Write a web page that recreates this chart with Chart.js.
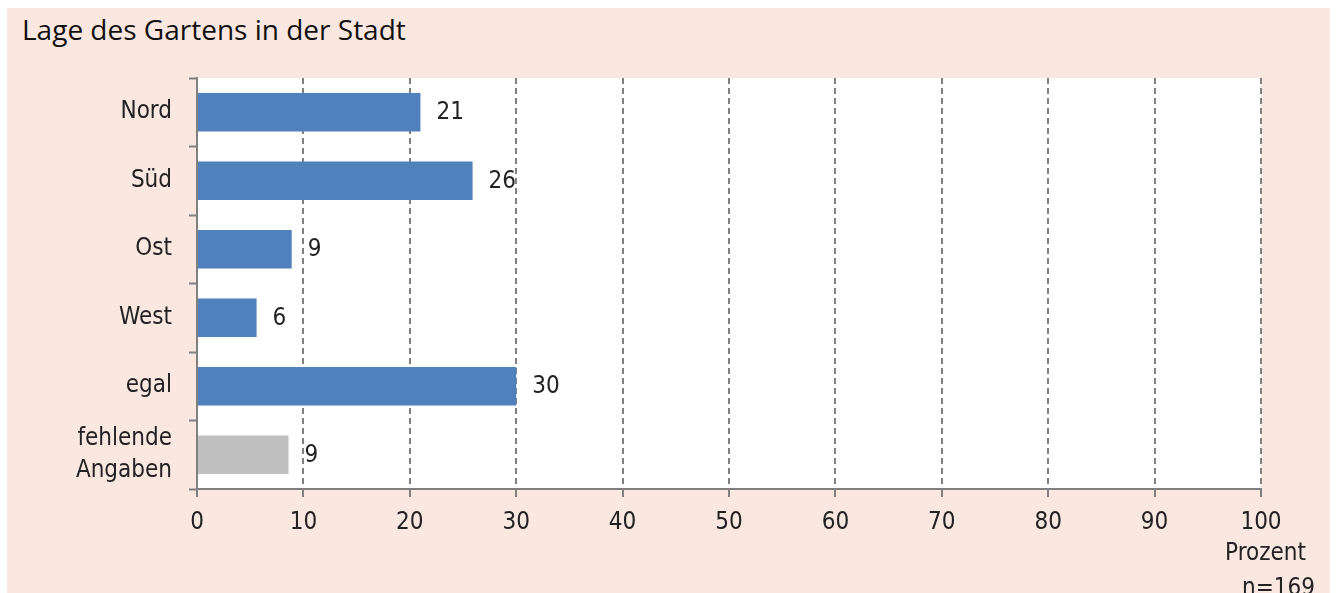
<!DOCTYPE html>
<html lang="de">
<head>
<meta charset="utf-8">
<title>Lage des Gartens in der Stadt</title>
<script src="https://cdn.jsdelivr.net/npm/chart.js@4.4.1/dist/chart.umd.min.js"></script>
<style>
    html, body { margin: 0; padding: 0; background: #ffffff; }
    body { width: 1336px; height: 593px; position: relative; overflow: hidden; }
    #panel { position: absolute; left: 7px; top: 8px; width: 1323px; height: 600px; background: #f9e7e0; }
    #title { position: absolute; left: 22px; top: 10px; font-family: "Open Sans", "Noto Sans", sans-serif; font-size: 28px; font-weight: 500; color: #111; }
    #chart { position: absolute; left: 0; top: 0; }
</style>
</head>
<body>
<div id="panel"></div>
<div id="title">Lage des Gartens in der Stadt</div>
<canvas id="chart" width="1336" height="593"></canvas>
<script>
// Daten
const categories = ["Nord", "Süd", "Ost", "West", "egal", ["fehlende", "Angaben"]];
const values = [21.0, 25.9, 8.9, 5.6, 30.0, 8.6];
const valueLabels = ["21", "26", "9", "6", "30", "9"];
const barColors = ["#4f81bd", "#4f81bd", "#4f81bd", "#4f81bd", "#4f81bd", "#c0c0c0"];
const xTicks = [0, 10, 20, 30, 40, 50, 60, 70, 80, 90, 100];
const axisTitle = "Prozent";
const sampleNote = "n=169";

const FONT = '"DejaVu Sans Condensed", "Liberation Sans Narrow", sans-serif';
const FSIZE = 24;
const TEXT = "#222222";
const GREY = "#808080";

// Weisser Plotbereich + Wertebeschriftung
const plotDecor = {
    id: "plotDecor",
    beforeDraw(chart) {
        const { ctx, chartArea } = chart;
        ctx.save();
        ctx.fillStyle = "#ffffff";
        ctx.fillRect(chartArea.left, chartArea.top, chartArea.right - chartArea.left, chartArea.bottom - chartArea.top);
        ctx.restore();
    },
    afterDatasetsDraw(chart) {
        const { ctx } = chart;
        const meta = chart.getDatasetMeta(0);
        ctx.save();
        ctx.font = FSIZE + "px " + FONT;
        ctx.fillStyle = TEXT;
        ctx.textAlign = "left";
        ctx.textBaseline = "middle";
        meta.data.forEach((bar, i) => {
            ctx.fillText(valueLabels[i], bar.x + 16, bar.y + 1);
        });
        ctx.restore();
    },
    afterDraw(chart) {
        const { ctx } = chart;
        ctx.save();
        ctx.font = FSIZE + "px " + FONT;
        ctx.fillStyle = TEXT;
        ctx.textAlign = "right";
        ctx.textBaseline = "middle";
        ctx.fillText(axisTitle, 1306, 554);
        ctx.fillText(sampleNote, 1315, 589);
        ctx.restore();
    }
};

new Chart(document.getElementById("chart"), {
    type: "bar",
    data: {
        labels: categories,
        datasets: [{
            data: values,
            backgroundColor: barColors,
            borderWidth: 0,
            barPercentage: 0.56,
            categoryPercentage: 1.0
        }]
    },
    options: {
        indexAxis: "y",
        responsive: false,
        animation: false,
        layout: { padding: { top: 78, right: 75, bottom: 0, left: 0 } },
        plugins: {
            legend: { display: false },
            tooltip: { enabled: false }
        },
        scales: {
            x: {
                min: 0,
                max: 100,
                afterFit: (scale) => { scale.height = 104; },
                afterBuildTicks: (scale) => { scale.ticks = xTicks.map(v => ({ value: v })); },
                ticks: {
                    color: TEXT,
                    font: { family: FONT, size: FSIZE },
                    padding: 11,
                    maxRotation: 0
                },
                grid: {
                    color: GREY,
                    lineWidth: 2,
                    tickLength: 8,
                    tickColor: GREY,
                    tickWidth: 2
                },
                border: { color: GREY, width: 2, dash: [6, 4] }
            },
            y: {
                afterFit: (scale) => { scale.width = 197; },
                ticks: {
                    color: TEXT,
                    font: { family: FONT, size: FSIZE, lineHeight: 1.33 },
                    padding: 17
                },
                grid: {
                    drawOnChartArea: false,
                    tickLength: 8,
                    tickColor: GREY,
                    tickWidth: 2,
                    offset: true
                },
                border: { color: GREY, width: 2 }
            }
        }
    },
    plugins: [plotDecor]
});
</script>
</body>
</html>
